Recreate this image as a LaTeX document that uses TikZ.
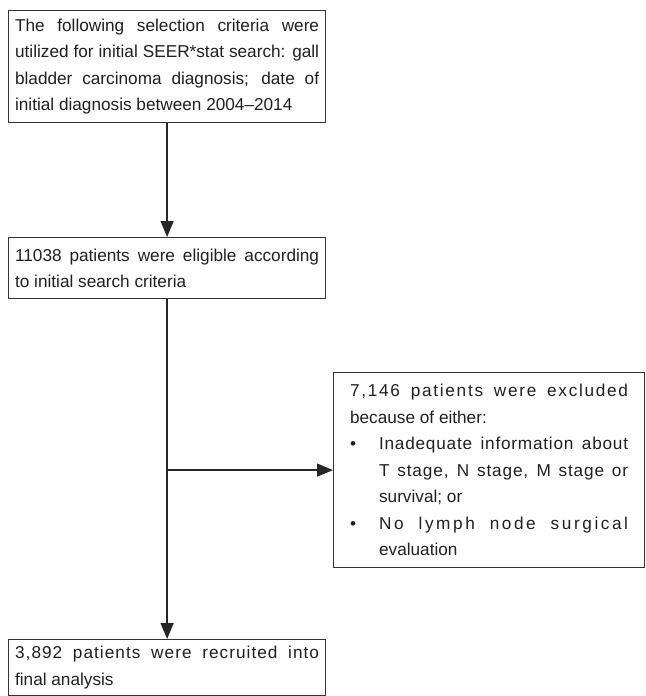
\documentclass[tikz,border=0pt]{standalone}
\usepackage{fontspec}
\setmainfont{Liberation Sans}
\usetikzlibrary{arrows.meta}

\tolerance=10000
\hbadness=10000

\tikzset{
  flowbox/.style={draw=black!80, line width=0.6pt, text=black!88,
    font=\fontsize{8.6}{13.25}\selectfont, align=justify,
    text width=152pt, inner xsep=3.25pt, inner ysep=0pt, anchor=north west},
  flowarrow/.style={draw=black!85, line width=0.65pt,
    -{Triangle[length=8pt,width=6.5pt]}}
}
% bullet item with hanging indent
\newcommand{\bulletline}{\par\hangindent=14.5pt\hangafter=1\noindent\makebox[14.5pt][l]{\textbullet}}
% tracked text
\newcommand{\tracked}[2]{{\addfontfeature{LetterSpace=#1}#2}}

\begin{document}
\begin{tikzpicture}[x=0.5pt, y=-0.5pt]
    \useasboundingbox (0,0) rectangle (645,696);

    % boxes of the main column
    \node[flowbox, minimum height=56pt] (criteria) at (8,10)
      {The following selection criteria were\linebreak utilized for initial SEER*stat search: gall\linebreak bladder carcinoma diagnosis; date of\linebreak initial diagnosis between 2004--2014};
    \node[flowbox, minimum height=30.5pt] (eligible) at (8,237)
      {11038 patients were eligible according\linebreak to initial search criteria};
    \node[flowbox, minimum height=28pt] (recruited) at (8,639)
      {\tracked{6}{3,892 patients were recruited into}\linebreak final analysis};

    % exclusion box on the right
    \node[flowbox, minimum height=97.5pt, text width=139pt, inner xsep=8.25pt] (excluded) at (333,372)
      {\tracked{10}{7,146 patients were excluded}\linebreak because of either:
       \bulletline \tracked{4.5}{Inadequate information about}\linebreak \tracked{5}{T stage, N stage, M stage or}\linebreak survival; or
       \bulletline \tracked{15}{No lymph node surgical}\linebreak evaluation\par};

    % arrows
    \draw[flowarrow] (criteria.south) -- (eligible.north);
    \draw[flowarrow] (eligible.south) -- (recruited.north);
    \coordinate (branch) at (eligible.south |- excluded.west);
    \draw[flowarrow] (branch) -- (excluded.west);

\end{tikzpicture}
\end{document}
